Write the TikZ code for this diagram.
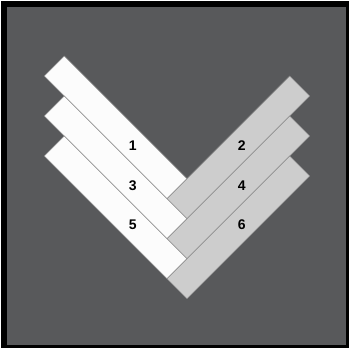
\documentclass[tikz,border=0pt]{standalone}
\usepackage{fontspec}
\setmainfont{Liberation Sans}

\definecolor{sfondo}{HTML}{58595B}
\definecolor{listello}{HTML}{FCFCFC}
\definecolor{listellogrigio}{HTML}{CDCDCD}
\definecolor{fuga}{HTML}{8A8A8A}

\tikzset{
    listellochiaro/.style={fill=listello, draw=fuga, line width=0.6pt, line join=miter},
    listelloscuro/.style={fill=listellogrigio, draw=fuga, line width=0.6pt, line join=miter},
    numero/.style={font=\bfseries\fontsize{14}{14}\selectfont, text=black, inner sep=0pt}
}

\begin{document}
\begin{tikzpicture}[x=1pt, y=-1pt]

    % Pagina e cornice
    \useasboundingbox (0,0) rectangle (350,349);
    \fill[white] (0,0) rectangle (350,349);
    \fill[black] (1,1) rectangle (349,348);
    \fill[sfondo] (7,7) rectangle (346,345);

    % --- LISTELLI A SPINA DI PESCE (tre file) ---
    \foreach \k in {0,1,2} {
        % listello chiaro (verso il basso a destra)
        \draw[listellochiaro] (64.3, 56+40*\k) -- (187, 178.7+40*\k)
            -- (167, 198.7+40*\k) -- (44.3, 76+40*\k) -- cycle;
        % listello grigio (verso l'alto a destra)
        \draw[listelloscuro] (167, 198.7+40*\k) -- (289.7, 76+40*\k)
            -- (309.7, 96+40*\k) -- (187, 218.7+40*\k) -- cycle;
    }

    % --- NUMERAZIONE DEI LISTELLI ---
    \node[numero] (n1) at (132.7, 145.7) {1};
    \node[numero] (n2) at (241.7, 145.7) {2};
    \node[numero] (n3) at (132.7, 185.3) {3};
    \node[numero] (n4) at (241.7, 185.3) {4};
    \node[numero] (n5) at (132.7, 225) {5};
    \node[numero] (n6) at (241.7, 225) {6};

\end{tikzpicture}
\end{document}
